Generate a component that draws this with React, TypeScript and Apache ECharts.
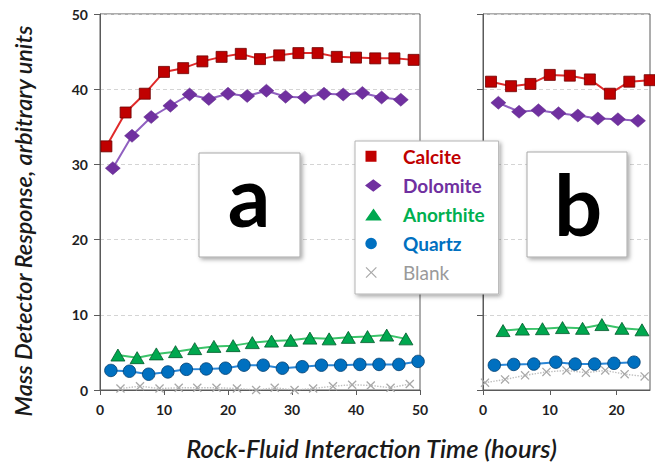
import React, { useEffect, useRef } from "react";
import * as echarts from "echarts";

// ---------- data (panel a) ----------
const hoursACalcite = [1, 4, 7, 10, 13, 16, 19, 22, 25, 28, 31, 34, 37, 40, 43, 46, 49];
const calciteA = [32.4, 36.9, 39.4, 42.3, 42.8, 43.7, 44.3, 44.7, 44.0, 44.5, 44.8, 44.8, 44.3, 44.2, 44.1, 44.1, 43.9];
const hoursADolomite = [2, 5, 8, 11, 14, 17, 20, 23, 26, 29, 32, 35, 38, 41, 44, 47];
const dolomiteA = [29.5, 33.8, 36.3, 37.8, 39.3, 38.7, 39.4, 39.1, 39.8, 39.0, 38.9, 39.4, 39.3, 39.5, 38.9, 38.6];
const hoursAAnorthite = [2.8, 5.8, 8.8, 11.8, 14.8, 17.8, 20.8, 23.8, 26.8, 29.8, 32.8, 35.8, 38.8, 41.8, 44.8, 47.8];
const anorthiteA = [4.65, 4.3, 4.8, 5.1, 5.5, 5.8, 5.9, 6.3, 6.5, 6.6, 6.9, 6.8, 7.0, 7.1, 7.3, 6.8];
const hoursAQuartz = [1.7, 4.6, 7.6, 10.6, 13.5, 16.6, 19.6, 22.5, 25.5, 28.5, 31.6, 34.6, 37.6, 40.6, 43.6, 46.7, 49.7];
const quartzA = [2.6, 2.5, 2.1, 2.4, 2.75, 2.8, 2.9, 3.3, 3.3, 2.9, 3.1, 3.3, 3.3, 3.4, 3.4, 3.4, 3.8];
const hoursABlank = [3.2, 6.25, 9.3, 12.3, 15.2, 18.2, 21.4, 24.4, 27.3, 30.4, 33.3, 36.4, 39.4, 42.3, 45.4, 48.4];
const blankA = [0.2, 0.5, 0.2, 0.3, 0.3, 0.3, 0.2, 0.0, 0.3, 0.0, 0.2, 0.5, 0.7, 0.6, 0.3, 0.8];

// ---------- data (panel b) ----------
const hoursBCalcite = [1.2, 4.2, 7.1, 10, 13, 16, 19, 21.9, 24.95];
const calciteB = [41.0, 40.4, 40.7, 41.9, 41.8, 41.3, 39.4, 41.0, 41.2];
const hoursBDolomite = [2.3, 5.4, 8.3, 11.3, 14.2, 17.2, 20.2, 23.2];
const dolomiteB = [38.2, 37.0, 37.2, 36.8, 36.5, 36.1, 36.0, 35.8];
const hoursBAnorthite = [3.0, 5.9, 8.9, 11.9, 14.9, 17.8, 20.8, 23.8];
const anorthiteB = [7.9, 8.1, 8.15, 8.3, 8.2, 8.7, 8.2, 8.0];
const hoursBQuartz = [1.7, 4.6, 7.6, 10.9, 13.8, 16.7, 19.6, 22.6];
const quartzB = [3.3, 3.4, 3.45, 3.7, 3.45, 3.45, 3.55, 3.7];
const hoursBBlank = [0.3, 3.3, 6.3, 9.5, 12.5, 15.4, 18.3, 21.2, 24.2];
const blankB = [0.97, 1.4, 1.95, 2.4, 2.6, 2.3, 2.6, 2.1, 1.8];

const seriesNames = ["Calcite", "Dolomite", "Anorthite", "Quartz", "Blank"];
const yTicks = { min: 0, max: 50, interval: 10 };
const xTicksA = { min: 0, max: 50, interval: 10 };
const xTicksB = { min: 0, max: 25, interval: 10 };

const zip = (xs: number[], ys: number[]) => xs.map((x, i) => [x, ys[i]]);

// ---------- styles ----------
const FONT = "Lato, 'Open Sans', sans-serif";
const AXIS_COLOR = "#5a5a5a";

function xPath(cx: number, cy: number, h: number, t: number) {
  const d = t / Math.SQRT2;
  const pts = [
    [cx - h, cy - h + d], [cx - h + d, cy - h], [cx, cy - d],
    [cx + h - d, cy - h], [cx + h, cy - h + d], [cx + d, cy],
    [cx + h, cy + h - d], [cx + h - d, cy + h], [cx, cy + d],
    [cx - h + d, cy + h], [cx - h, cy + h - d], [cx - d, cy],
  ];
  return "M" + pts.map((p) => p[0].toFixed(2) + "," + p[1].toFixed(2)).join("L") + "Z";
}

const ANCHORS = "M0,0h0.01v0.01h-0.01zM16.99,12.99h0.01v0.01h-0.01z";
const legendIcons = [
  "path://" + ANCHORS + "M0.5,0.7h11v11h-11z",
  "path://" + ANCHORS + "M0,6.5L8.3,0.2L16.6,6.5L8.3,12.8z",
  "path://" + ANCHORS + "M0.2,12.4L8.5,0.6L16.8,12.4z",
  "path://" + ANCHORS + "M0.3,6.5a5.8,5.8 0 1,0 11.6,0a5.8,5.8 0 1,0 -11.6,0z",
  "path://" + ANCHORS + xPath(6.2, 6.5, 5.6, 1.2),
];
const blankSymbol = "path://" + xPath(5, 5, 5, 1.4);

const styles = [
  { symbol: "rect", size: 11, fill: "#C00000", border: "#6e0000", bw: 0.8, line: "#E02A2A", lw: 2, type: "solid", text: "#C00000", weight: "bold" },
  { symbol: "diamond", size: [15, 13], fill: "#7030A0", border: "#5a2684", bw: 0.5, line: "#9060C0", lw: 2, type: "solid", text: "#7030A0", weight: "bold" },
  { symbol: "triangle", size: [14, 12], fill: "#00A84F", border: "#005a2a", bw: 0.8, line: "#3CC46A", lw: 2, type: "solid", text: "#00B050", weight: "bold" },
  { symbol: "circle", size: 12.5, fill: "#0070C0", border: "#003e6e", bw: 0.8, line: "#2A86D6", lw: 2, type: "solid", text: "#0070C0", weight: "bold" },
  { symbol: blankSymbol, size: 9, fill: "#a8a8a8", border: "#a8a8a8", bw: 0, line: "#bdbdbd", lw: 1.4, type: "dotted", text: "#9a9a9a", weight: "normal" },
];

const panelA = [
  zip(hoursACalcite, calciteA),
  zip(hoursADolomite, dolomiteA),
  zip(hoursAAnorthite, anorthiteA),
  zip(hoursAQuartz, quartzA),
  zip(hoursABlank, blankA),
];
const panelB = [
  zip(hoursBCalcite, calciteB),
  zip(hoursBDolomite, dolomiteB),
  zip(hoursBAnorthite, anorthiteB),
  zip(hoursBQuartz, quartzB),
  zip(hoursBBlank, blankB),
];

function makeSeries(panel: number[][][], idx: number) {
  return panel.map((data, i) => {
    const s = styles[i];
    return {
      name: seriesNames[i],
      type: "line",
      xAxisIndex: idx,
      yAxisIndex: idx,
      data,
      clip: false,
      symbol: s.symbol,
      symbolSize: s.size,
      showAllSymbol: true,
      z: 3 + (4 - i),
      itemStyle: { color: s.fill, borderColor: s.border, borderWidth: s.bw },
      lineStyle: { color: s.line, width: s.lw, type: s.type },
      emphasis: { disabled: true },
      silent: true,
    };
  });
}

const axisLabelStyle = { fontFamily: FONT, fontWeight: "bold", fontSize: 14, color: "#1f1f1f" };

function xAxis(gridIndex: number, ticks: { min: number; max: number; interval: number }) {
  return {
    type: "value",
    gridIndex,
    ...ticks,
    axisLine: { show: true, onZero: false, lineStyle: { color: AXIS_COLOR, width: 1 } },
    axisTick: { show: true, inside: false, length: 5, lineStyle: { color: AXIS_COLOR } },
    splitLine: { show: false },
    axisLabel: { ...axisLabelStyle, margin: 12, showMaxLabel: gridIndex === 0 },
  };
}
function yAxis(gridIndex: number) {
  return {
    type: "value",
    gridIndex,
    ...yTicks,
    axisLine: { show: true, onZero: false, lineStyle: { color: AXIS_COLOR, width: 1 } },
    axisTick: { show: true, inside: false, length: 6, lineStyle: { color: AXIS_COLOR } },
    splitLine: { show: true, lineStyle: { color: "#d4d4d4", type: [4, 3], width: 1 } },
    axisLabel: { ...axisLabelStyle, margin: 12, show: gridIndex === 0 },
  };
}

const boxStyle = {
  fill: "#ffffff",
  stroke: "#a8a8a8",
  lineWidth: 1,
  shadowBlur: 4,
  shadowOffsetX: 2,
  shadowOffsetY: 2,
  shadowColor: "rgba(0,0,0,0.35)",
};

const option = {
  animation: false,
  backgroundColor: "#ffffff",
  grid: [
    { left: 100, top: 14, width: 320, height: 376, show: true, borderColor: AXIS_COLOR, borderWidth: 1, backgroundColor: "transparent" },
    { left: 483, top: 14, width: 167, height: 376, show: true, borderColor: AXIS_COLOR, borderWidth: 1, backgroundColor: "transparent" },
  ],
  xAxis: [xAxis(0, xTicksA), xAxis(1, xTicksB)],
  yAxis: [yAxis(0), yAxis(1)],
  legend: {
    orient: "vertical",
    left: 355,
    top: 141,
    padding: [6, 14, 12, 10],
    itemWidth: 17,
    itemHeight: 13,
    itemGap: 10,
    selectedMode: false,
    backgroundColor: "#ffffff",
    borderColor: "#b4b4b4",
    borderWidth: 1,
    shadowBlur: 4,
    shadowColor: "rgba(0,0,0,0.35)",
    shadowOffsetX: 2,
    shadowOffsetY: 2,
    itemStyle: { borderWidth: 0 },
    textStyle: { fontFamily: FONT, fontSize: 19, fontWeight: "bold", padding: [0, 0, 0, 16] },
    data: seriesNames.map((name, i) => ({
      name,
      icon: legendIcons[i],
      itemStyle: { color: styles[i].fill, borderWidth: 0 },
      textStyle: { color: styles[i].text, fontWeight: styles[i].weight },
    })),
    z: 20,
  },
  graphic: [
    { type: "rect", z: 10, shape: { x: 199, y: 153, width: 101, height: 104 }, style: boxStyle },
    { type: "text", z: 11, x: 249, y: 194, style: { text: "a", fontFamily: FONT, fontWeight: "bold", fontSize: 84, fill: "#000", align: "center", verticalAlign: "middle" } },
    { type: "rect", z: 10, shape: { x: 527, y: 152, width: 100, height: 105 }, style: boxStyle },
    { type: "text", z: 11, x: 578, y: 203, style: { text: "b", fontFamily: FONT, fontWeight: "bold", fontSize: 85, fill: "#000", align: "center", verticalAlign: "middle" } },
    { type: "text", z: 11, x: 22.5, y: 221, rotation: Math.PI / 2, style: { text: "Mass Detector Response, arbitrary units", fontFamily: FONT, fontStyle: "italic", fontWeight: 600, fontSize: 23.5, fill: "#1a1a1a", align: "center", verticalAlign: "middle" } },
    { type: "text", z: 11, x: 371.5, y: 448, style: { text: "Rock-Fluid Interaction Time (hours)", fontFamily: FONT, fontStyle: "italic", fontWeight: 600, fontSize: 25.5, fill: "#1a1a1a", align: "center", verticalAlign: "middle" } },
  ],
  series: [...makeSeries(panelA, 0), ...makeSeries(panelB, 1)],
};

export default function App() {
  const ref = useRef<HTMLDivElement>(null);
  useEffect(() => {
    if (!ref.current) return;
    const chart = echarts.init(ref.current, null, { renderer: "svg" });
    chart.setOption(option as any);
    return () => chart.dispose();
  }, []);
  return <div ref={ref} style={{ position: "fixed", left: 0, top: 0, width: 655, height: 466 }} />;
}
